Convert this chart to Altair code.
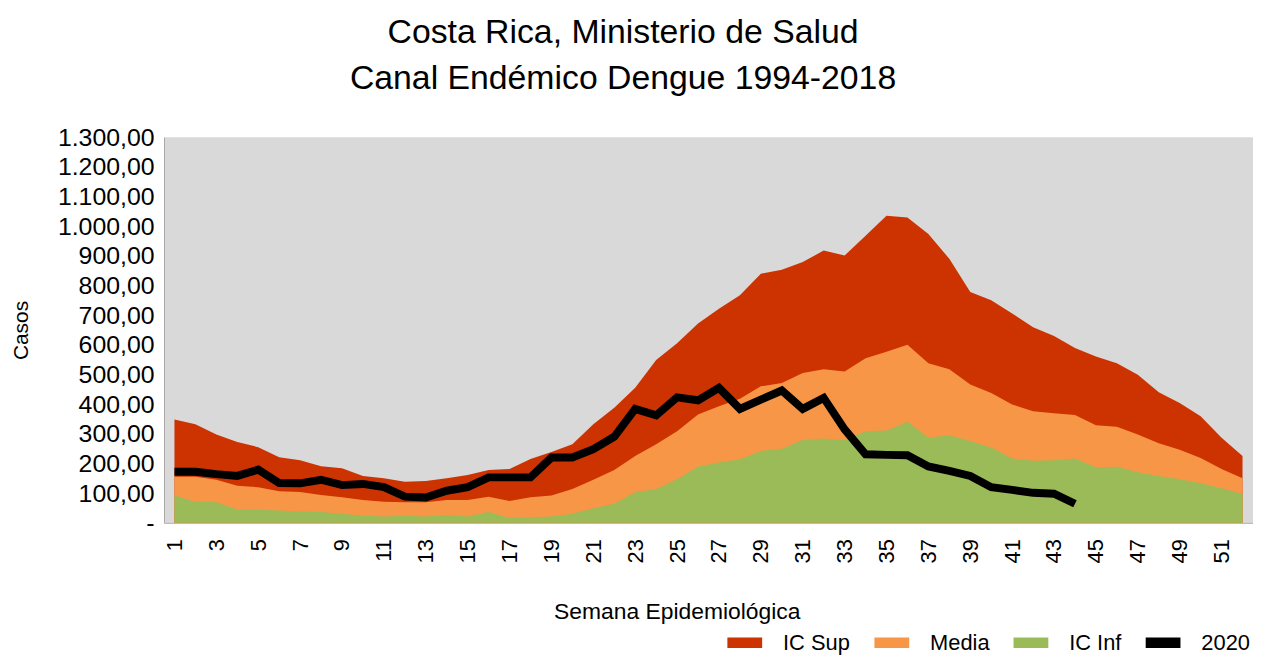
import altair as alt
import pandas as pd

weeks = list(range(1, 53))
ic_sup = [348, 332, 298, 272, 255, 221, 211, 191, 184, 158, 150, 138, 141, 150, 161, 178, 181, 215,
          239, 265, 332, 388, 455, 549, 605, 672, 722, 767, 840, 853, 879, 918, 901, 968, 1035, 1029,
          974, 890, 778, 750, 706, 659, 630, 589, 561, 538, 499, 440, 404, 359, 287, 225]
media = [155, 155, 145, 125, 120, 106, 104, 94, 86, 77, 71, 69, 69, 77, 77, 88, 73, 86,
         92, 114, 145, 178, 225, 265, 309, 365, 393, 418, 460, 471, 505, 518, 510, 555, 577, 600,
         538, 518, 466, 438, 399, 376, 369, 363, 329, 324, 298, 268, 246, 218, 181, 150]
ic_inf = [92, 71, 69, 45, 44, 41, 38, 36, 30, 24, 21, 24, 21, 26, 21, 36, 16, 19,
          21, 30, 49, 64, 103, 114, 147, 190, 203, 214, 242, 250, 279, 284, 279, 309, 311, 341,
          287, 295, 276, 254, 217, 209, 211, 217, 187, 189, 170, 158, 147, 133, 116, 97]
y2020 = [172, 172, 164, 158, 179, 134, 133, 145, 127, 131, 120, 88, 85, 108, 120, 153, 153, 153,
         220, 220, 248, 290, 384, 362, 423, 413, 455, 384, 415, 446, 384, 421, 315, 231, 229, 228,
         190, 175, 158, 120, 111, 101, 98, 64]

series_names = ["IC Sup", "Media", "IC Inf", "2020"]
series_colors = ["#CC3300", "#F79646", "#9BBB59", "#000000"]
y_ticks = list(range(0, 1301, 100))
x_ticks = list(range(1, 53, 2))

rows = []
for name, vals in zip(series_names, [ic_sup, media, ic_inf, y2020]):
    for w, v in zip(weeks, vals):
        rows.append({"Semana": w, "Casos": v, "Serie": name})
df = pd.DataFrame(rows)

FONT = "Liberation Sans"

x = alt.X("Semana:Q",
          scale=alt.Scale(domain=[0.5, 52.5], nice=False, zero=False),
          axis=alt.Axis(values=x_ticks, title="Semana Epidemiológica", labelAngle=270,
                        labelFontSize=22, labelPadding=16, ticks=False, grid=False,
                        domainColor="#A6A6A6", labelColor="#000000", labelFont=FONT,
                        titleFont=FONT, titleFontSize=23, titleFontWeight="normal",
                        titleColor="#000000", titleX=516, titleY=96, titleAlign="center",
                        titleBaseline="alphabetic", labelFlush=False, labelOverlap=False))
y = alt.Y("Casos:Q",
          scale=alt.Scale(domain=[0, 1300], nice=False),
          axis=alt.Axis(values=y_ticks, title="Casos", ticks=False, grid=False,
                        labelFontSize=25, labelPadding=10, domainColor="#A6A6A6",
                        labelColor="#000000", labelFont=FONT,
                        labelExpr="datum.value == 0 ? '-' : replace(replace(replace(format(datum.value, ',.2f'), ',', '#'), '.', ','), '#', '.')",
                        titleFont=FONT, titleFontSize=21, titleFontWeight="normal",
                        titleColor="#000000", titleAngle=270, titleX=-143, titleY=194,
                        titleAlign="center", titleBaseline="middle"))
color = alt.Color("Serie:N",
                  scale=alt.Scale(domain=series_names, range=series_colors),
                  legend=alt.Legend(title=None, orient="none", direction="horizontal",
                                    columns=4, legendX=567, legendY=491,
                                    symbolType="M-1,-0.3H1V0.3H-1Z", symbolSize=1225,
                                    symbolStrokeWidth=0, symbolOpacity=1,
                                    labelFontSize=22, labelFont=FONT, labelColor="#000000",
                                    labelOffset=21, columnPadding=24, labelLimit=200))

base = alt.Chart(df)
layers = []
for name in ["IC Sup", "Media", "IC Inf"]:
    layers.append(base.transform_filter(alt.datum.Serie == name)
                  .mark_area(opacity=1, interpolate="linear")
                  .encode(x=x, y=y, color=color))
layers.append(base.transform_filter(alt.datum.Serie == "2020")
              .mark_line(strokeWidth=8, strokeJoin="miter")
              .encode(x=x, y=y, color=color))

chart = alt.layer(*layers).properties(
    width=1096, height=388,
    title=alt.TitleParams(text=["Costa Rica, Ministerio de Salud", "Canal Endémico Dengue 1994-2018"],
                          font=FONT, fontSize=34, fontWeight="normal",
                          color="#000000", lineHeight=46, anchor="middle", offset=30, dx=-86),
    autosize=alt.AutoSizeParams(type="none"),
    padding={"left": 157, "top": 128, "right": 0, "bottom": 131},
    background="#FFFFFF",
).configure_view(fill="#D9D9D9", stroke=None)

chart.save("out.html", embed_options={"renderer": "svg", "actions": False})
